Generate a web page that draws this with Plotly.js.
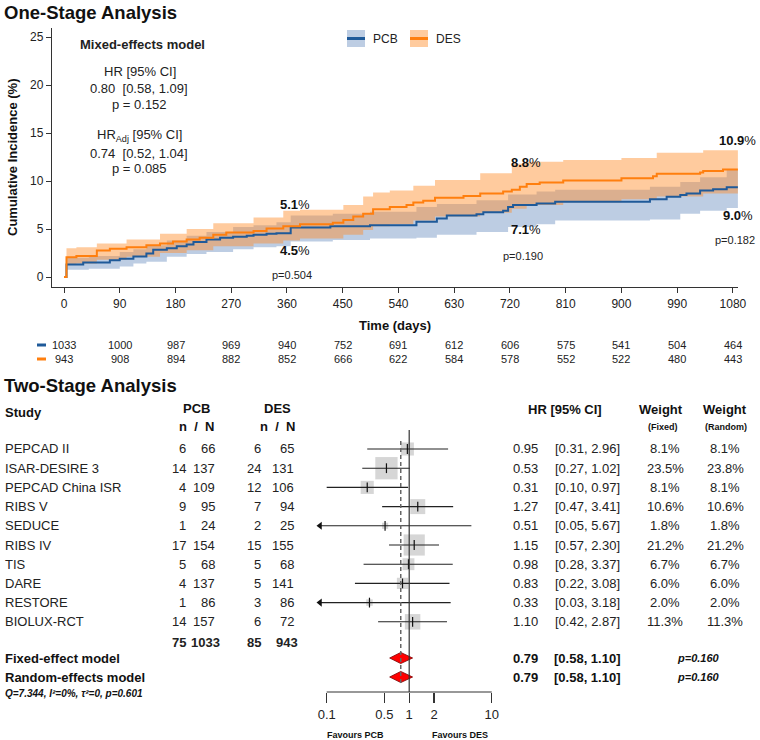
<!DOCTYPE html>
<html><head><meta charset="utf-8">
<script src="https://cdn.plot.ly/plotly-3.0.1.min.js"></script>
<style>body{margin:0;background:#fff}#chart{width:760px;height:740px}</style>
</head><body><div id="chart"></div>
<script>
// ---------------- One-stage (Kaplan-Meier style cumulative incidence) ----------------
const timeTicks = [0,90,180,270,360,450,540,630,720,810,900,990,1080];
const incTicks = [0,5,10,15,20,25];

const pcbDays = [0,4,31,74,90,112,133,144,166,182,198,209,230,252,273,295,306,327,343,366,430,494,569,602,618,666,677,709,717,725,763,793,946,973,995,1005,1027,1048,1070,1088];
const pcbInc  = [0,1.3,1.5,1.75,1.9,2.15,2.45,2.85,3.0,3.2,3.4,3.65,3.9,4.1,4.2,4.3,4.4,4.5,4.55,5.15,5.3,5.4,5.75,6.1,6.4,6.55,6.75,6.9,7.3,7.5,7.65,7.85,8.1,8.35,8.55,8.7,9.0,9.15,9.35,9.35];

const desDays = [0,4,20,53,74,101,133,155,176,198,219,241,262,306,327,354,381,434,451,467,483,499,526,553,564,580,599,645,672,709,723,736,747,768,806,900,951,957,1027,1032,1064,1088];
const desInc  = [0,2.05,2.2,2.75,2.95,3.1,3.3,3.5,3.7,3.9,4.1,4.4,4.65,4.8,5.05,5.3,5.5,5.65,5.95,6.3,6.6,7.05,7.3,7.5,7.75,7.95,8.25,8.45,8.7,8.9,9.1,9.4,9.7,9.85,10.05,10.3,10.5,10.75,10.9,11.05,11.2,11.2];

const pcbBandDays = [0,4,40,90,112,133,166,198,230,273,306,343,366,434,494,569,602,666,717,763,793,946,995,1027,1070,1088];
const pcbLower    = [0,0.75,0.85,1.1,1.4,1.6,2.1,2.4,2.6,2.9,3.1,3.2,3.7,3.85,4.0,4.1,4.4,4.7,5.2,5.5,5.9,6.0,6.6,6.9,7.2,7.25];
const pcbUpper    = [0,2.0,2.2,2.6,2.9,3.3,3.8,4.3,4.7,5.2,5.4,5.7,6.4,6.6,6.8,7.3,7.6,8.0,8.6,8.9,9.1,9.4,9.9,10.4,11.2,11.5];

const desBandDays = [0,4,20,53,101,155,198,241,306,354,381,451,483,499,526,564,599,672,723,747,806,900,957,1032,1088];
const desLower    = [0,1.3,1.4,1.8,2.1,2.5,2.8,3.2,3.5,3.8,4.0,4.4,4.9,5.3,5.5,5.9,6.3,6.7,7.1,7.5,7.8,8.1,8.4,8.7,8.8];
const desUpper    = [0,3.0,3.1,3.5,3.9,4.5,5.0,5.6,6.2,6.9,7.0,7.5,8.4,8.8,9.0,9.5,10.1,10.8,11.8,12.0,12.2,12.4,12.95,13.2,13.4];

const pcbRisk = [1033,1000,987,969,940,752,691,612,606,575,541,504,464];
const desRisk = [943,908,894,882,852,666,622,584,578,552,522,480,443];

const milestoneDays = [360,720,1080];
const desMilestone = ['5.1','8.8','10.9'];
const pcbMilestone = ['4.5','7.1','9.0'];
const milestoneP   = ['0.504','0.190','0.182'];

// ---------------- Two-stage (forest plot) ----------------
const studies   = ['PEPCAD II','ISAR-DESIRE 3','PEPCAD China ISR','RIBS V','SEDUCE','RIBS IV','TIS','DARE','RESTORE','BIOLUX-RCT'];
const pcbEvents = [6,14,4,9,1,17,5,4,1,14];
const pcbTotal  = [66,137,109,95,24,154,68,137,86,157];
const desEvents = [6,24,12,7,2,15,5,5,3,6];
const desTotal  = [65,131,106,94,25,155,68,141,86,72];
const hr        = [0.95,0.53,0.31,1.27,0.51,1.15,0.98,0.83,0.33,1.10];
const hrLo      = [0.31,0.27,0.10,0.47,0.05,0.57,0.28,0.22,0.03,0.42];
const hrHi      = [2.96,1.02,0.97,3.41,5.67,2.30,3.37,3.08,3.18,2.87];
const wFixed    = [8.1,23.5,8.1,10.6,1.8,21.2,6.7,6.0,2.0,11.3];
const wRandom   = [8.1,23.8,8.1,10.6,1.8,21.2,6.7,6.0,2.0,11.3];
const totals    = [75,1033,85,943];
const modelNames = ['Fixed-effect model','Random-effects model'];
const modelHR   = [0.79,0.79];
const modelLo   = [0.58,0.58];
const modelHi   = [1.10,1.10];
const modelP    = ['0.160','0.160'];
const hetText   = 'Q=7.344, I²=0%, τ²=0, p=0.601';
const forestTicks = [0.1,0.5,1,2,10];
const forestTickText = ['0.1','0.5','1','2','10'];

// ---------------- helpers ----------------
const W=760,H=740;
const FONT='"Liberation Sans", Arial, Helvetica, sans-serif';
const px=x=>x/W, py=y=>1-y/H;
const f=(size,color)=>({family:FONT,size:size,color:color||'#222'});
const annotations=[], shapes=[], traces=[];
function A(text,x,y,o){annotations.push(Object.assign({text:text,x:x,y:y,xref:'paper',yref:'paper',showarrow:false,xanchor:'center',yanchor:'middle',font:f(13)},o||{}));}

const BLUE='#1f5a99', ORANGE='#ff7f0e';
const BLUE_BAND='rgba(90,130,185,0.4)', ORANGE_BAND='rgba(255,140,40,0.45)';

// bands
function band(days,lo,up,col){
  traces.push({x:days,y:lo,mode:'lines',line:{width:0,shape:'hv'},hoverinfo:'skip',showlegend:false,xaxis:'x',yaxis:'y'});
  traces.push({x:days,y:up,mode:'lines',line:{width:0,shape:'hv'},fill:'tonexty',fillcolor:col,hoverinfo:'skip',showlegend:false,xaxis:'x',yaxis:'y'});
}
band(pcbBandDays,pcbLower,pcbUpper,BLUE_BAND);
band(desBandDays,desLower,desUpper,ORANGE_BAND);
traces.push({x:pcbDays,y:pcbInc,mode:'lines',line:{color:BLUE,width:2,shape:'hv'},showlegend:false,xaxis:'x',yaxis:'y'});
traces.push({x:desDays,y:desInc,mode:'lines',line:{color:ORANGE,width:2,shape:'hv'},showlegend:false,xaxis:'x',yaxis:'y'});

// titles & texts top
A('<b>One-Stage Analysis</b>',px(2),py(12),{xanchor:'left',font:f(18.5,'#111')});
A('<b>Mixed-effects model</b>',px(142),py(44),{font:f(13,'#222')});
A('HR [95% CI]',px(140),py(71),{font:f(13,'#222')});
A('0.80\u00a0\u00a0[0.58, 1.09]',px(139),py(88),{font:f(13,'#222')});
A('p = 0.152',px(139),py(104),{font:f(13,'#222')});
A('HR<sub>Adj</sub> [95% CI]',px(139),py(135),{font:f(13,'#222')});
A('0.74\u00a0\u00a0[0.52, 1.04]',px(139),py(153),{font:f(13,'#222')});
A('p = 0.085',px(139),py(168),{font:f(13,'#222')});
A('<b>Cumulative Incidence (%)</b>',px(12),py(158),{textangle:-90,font:f(13,'#111')});
A('<b>Time (days)</b>',px(395),py(326),{font:f(13,'#111')});

// legend
function legendItem(x0,label,band,line){
  shapes.push({type:'rect',xref:'paper',yref:'paper',x0:px(x0),x1:px(x0+18),y0:py(47),y1:py(30),fillcolor:band,line:{width:0}});
  shapes.push({type:'line',xref:'paper',yref:'paper',x0:px(x0),x1:px(x0+18),y0:py(38.5),y1:py(38.5),line:{color:line,width:3}});
  A(label,px(x0+24),py(39),{xanchor:'left',font:f(12,'#222')});
}
legendItem(347,'PCB',BLUE_BAND,BLUE);
legendItem(410,'DES',ORANGE_BAND,ORANGE);

// milestone labels
const msShift=[8,16,5];
const desY=[204,163,140], pcbY=[250,230,215], pY=[275,256,240];
milestoneDays.forEach((d,i)=>{
  A('<b>'+desMilestone[i]+'</b>%',d,py(desY[i]),{xref:'x',xshift:msShift[i],font:f(13,'#111')});
  A('<b>'+pcbMilestone[i]+'</b>%',d,py(pcbY[i]),{xref:'x',xshift:msShift[i],font:f(13,'#111')});
  A('p='+milestoneP[i],d,py(pY[i]),{xref:'x',xshift:msShift[i]-3,font:f(11,'#222')});
});

// risk table
timeTicks.forEach((t,i)=>{
  A(String(pcbRisk[i]),t,py(345),{xref:'x',font:f(11,'#222')});
  A(String(desRisk[i]),t,py(359),{xref:'x',font:f(11,'#222')});
});
shapes.push({type:'line',xref:'paper',yref:'paper',x0:px(37),x1:px(46),y0:py(345),y1:py(345),line:{color:BLUE,width:3}});
shapes.push({type:'line',xref:'paper',yref:'paper',x0:px(37),x1:px(46),y0:py(359),y1:py(359),line:{color:ORANGE,width:3}});

// ---------------- forest ----------------
const ROW0=449, ROWH=19.2;
const rowOf=p=>(p-ROW0)/ROWH+1;
const yTop=rowOf(430), yBot=rowOf(692);
const FMIN=0.083;
const rows=studies.map((s,i)=>i+1);
const totalRow=rowOf(642), modelRows=[rowOf(658),rowOf(677)];

A('<b>Two-Stage Analysis</b>',px(2),py(385),{xanchor:'left',font:f(18.5,'#111')});
A('<b>Study</b>',px(3),py(412),{xanchor:'left',font:f(13,'#111')});
A('<b>PCB</b>',px(197),py(408),{font:f(13,'#111')});
A('<b>n\u00a0\u00a0/\u00a0\u00a0N</b>',px(197),py(426),{font:f(13,'#111')});
A('<b>DES</b>',px(277),py(408),{font:f(13,'#111')});
A('<b>n\u00a0\u00a0/\u00a0\u00a0N</b>',px(277),py(426),{font:f(13,'#111')});
A('<b>HR [95% CI]</b>',px(565),py(409),{font:f(13,'#111')});
A('<b>Weight</b>',px(661),py(409),{font:f(13,'#111')});
A('<b>Weight</b>',px(725),py(409),{font:f(13,'#111')});
A('<b>(Fixed)</b>',px(663),py(427),{font:f(9,'#111')});
A('<b>(Random)</b>',px(726),py(427),{font:f(9,'#111')});

function R(text,x,row,o){A(text,px(x),row,Object.assign({yref:'y2'},o||{}));}
studies.forEach((s,i)=>{
  const r=rows[i];
  R(s,3,r,{xanchor:'left'});
  R(String(pcbEvents[i]),188,r,{xanchor:'right'});
  R(String(pcbTotal[i]),217,r,{xanchor:'right'});
  R(String(desEvents[i]),263,r,{xanchor:'right'});
  R(String(desTotal[i]),296,r,{xanchor:'right'});
  R(hr[i].toFixed(2),525,r);
  R('['+hrLo[i].toFixed(2)+', '+hrHi[i].toFixed(2)+']',587,r);
  R(wFixed[i].toFixed(1)+'%',665,r);
  R(wRandom[i].toFixed(1)+'%',725,r);
});
R('<b>'+totals[0]+'</b>',188,totalRow,{xanchor:'right'});
R('<b>'+totals[1]+'</b>',222,totalRow,{xanchor:'right'});
R('<b>'+totals[2]+'</b>',263,totalRow,{xanchor:'right'});
R('<b>'+totals[3]+'</b>',300,totalRow,{xanchor:'right'});
modelNames.forEach((m,k)=>{
  R('<b>'+m+'</b>',3,modelRows[k],{xanchor:'left',font:f(13,'#111')});
  R('<b>'+modelHR[k].toFixed(2)+'</b>',525,modelRows[k],{font:f(13,'#111')});
  R('<b>['+modelLo[k].toFixed(2)+', '+modelHi[k].toFixed(2)+']</b>',587,modelRows[k],{font:f(13,'#111')});
  R('<b><i>p='+modelP[k]+'</i></b>',698,modelRows[k],{font:f(11,'#111')});
});
A('<b><i>'+hetText+'</i></b>',px(3),py(693),{xanchor:'left',font:f(10,'#111')});
A('<b>Favours PCB</b>',px(355),py(735),{font:f(9,'#111')});
A('<b>Favours DES</b>',px(460),py(735),{font:f(9,'#111')});

// reference lines / axis line
shapes.push({type:'line',xref:'x2',yref:'y2',x0:1,x1:1,y0:rowOf(427),y1:yBot,line:{color:'#333',width:1.2}});
shapes.push({type:'line',xref:'x2',yref:'y2',x0:modelHR[0],x1:modelHR[0],y0:rowOf(441),y1:rowOf(684),line:{color:'#666',width:1.5,dash:'4px,3px'}});
shapes.push({type:'line',xref:'x2',yref:'paper',x0:forestTicks[0],x1:forestTicks[forestTicks.length-1],y0:py(692),y1:py(692),line:{color:'#333',width:1.2}});

// squares
traces.push({x:hr,y:rows,mode:'markers',marker:{symbol:'square',size:wFixed.map(w=>4.6*Math.sqrt(w)),color:'#c4c4c4',line:{width:0}},xaxis:'x2',yaxis:'y2',showlegend:false,hoverinfo:'skip'});
// CI lines
studies.forEach((s,i)=>{
  traces.push({x:[Math.max(hrLo[i],FMIN),hrHi[i]],y:[rows[i],rows[i]],mode:'lines',line:{color:'#222',width:1.1},xaxis:'x2',yaxis:'y2',showlegend:false,hoverinfo:'skip'});
});
const arrowRows=rows.filter((r,i)=>hrLo[i]<FMIN);
traces.push({x:arrowRows.map(()=>FMIN),y:arrowRows,mode:'markers',marker:{symbol:'triangle-left',size:7,color:'#111'},xaxis:'x2',yaxis:'y2',showlegend:false,hoverinfo:'skip',cliponaxis:false});
// tick marks at estimates
traces.push({x:hr,y:rows,mode:'markers',marker:{symbol:'line-ns',size:7,line:{color:'#111',width:1.2}},xaxis:'x2',yaxis:'y2',showlegend:false,hoverinfo:'skip'});
// diamonds
modelNames.forEach((m,k)=>{
  const r=modelRows[k], h=0.29;
  traces.push({x:[modelLo[k],modelHR[k],modelHi[k],modelHR[k],modelLo[k]],y:[r,r-h,r,r+h,r],mode:'lines',fill:'toself',fillcolor:'#ff0000',line:{color:'#700',width:0.8},xaxis:'x2',yaxis:'y2',showlegend:false,hoverinfo:'skip'});
});

const layout={
  width:W,height:H,margin:{l:0,r:0,t:0,b:0},paper_bgcolor:'#fff',plot_bgcolor:'rgba(0,0,0,0)',
  showlegend:false,font:{family:FONT,color:'#222'},
  xaxis:{domain:[px(52),px(738)],range:[-19.4,1088.2],tickvals:timeTicks,ticks:'outside',ticklen:5,tickcolor:'#333',showline:true,linecolor:'#333',linewidth:1.2,showgrid:false,zeroline:false,tickfont:f(12,'#222'),anchor:'y'},
  yaxis:{domain:[py(287),py(28)],range:[-1.04,25.94],tickvals:incTicks,ticks:'outside',ticklen:5,tickcolor:'#333',showline:true,linecolor:'#333',linewidth:1.2,showgrid:false,zeroline:false,tickfont:f(12,'#222'),anchor:'x'},
  xaxis2:{domain:[px(300),px(500)],type:'log',range:[Math.log10(0.0475),Math.log10(12.6)],tickvals:forestTicks,ticktext:forestTickText,ticks:'outside',ticklen:10,tickcolor:'#333',tickwidth:1.2,showline:false,showgrid:false,zeroline:false,tickfont:f(13,'#222'),anchor:'y2'},
  yaxis2:{domain:[py(692),py(430)],range:[yBot,yTop],visible:false,anchor:'x2'},
  annotations:annotations,shapes:shapes
};
Plotly.newPlot('chart',traces,layout,{staticPlot:true,displayModeBar:false});
</script></body></html>
